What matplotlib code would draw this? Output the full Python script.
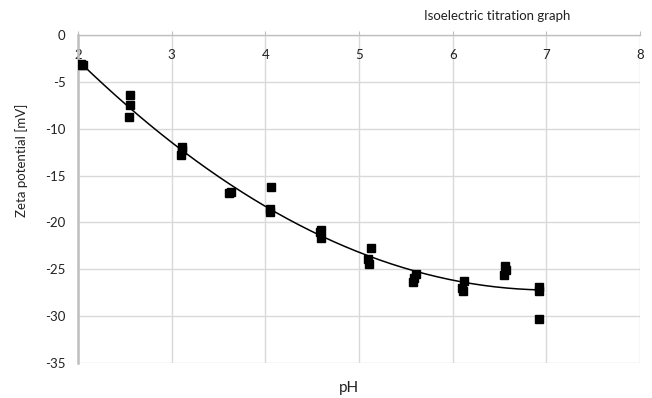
import numpy as np
import matplotlib
matplotlib.use("Agg")
import matplotlib.pyplot as plt

plt.rcParams['font.family'] = ['Lato', 'DejaVu Sans']

# Data
ph = [2.03, 2.05, 2.04,
      2.55, 2.55, 2.54,
      3.11, 3.11, 3.10,
      3.61, 3.63,
      4.06, 4.05, 4.05,
      4.59, 4.58, 4.59,
      5.13, 5.10, 5.11,
      5.61, 5.59, 5.58,
      6.12, 6.10, 6.11,
      6.56, 6.57, 6.55,
      6.92, 6.92, 6.92]
zeta = [-3.1, -3.2, -3.15,
        -6.4, -7.5, -8.7,
        -12.0, -12.3, -12.8,
        -16.9, -16.7,
        -16.2, -18.6, -18.9,
        -20.8, -21.0, -21.7,
        -22.7, -23.9, -24.4,
        -25.5, -25.9, -26.4,
        -26.2, -27.0, -27.3,
        -24.7, -25.1, -25.6,
        -26.9, -27.3, -30.3]

x_ticks = [2, 3, 4, 5, 6, 7, 8]
y_ticks = [0, -5, -10, -15, -20, -25, -30, -35]

title = "Isoelectric titration graph"
xlabel = "pH"
ylabel = "Zeta potential [mV]"

fig = plt.figure(figsize=(6.52, 3.98), dpi=100)
ax = fig.add_axes([78/652, 1-363/398, (640-78)/652, (363-35)/398])

ax.set_xlim(2, 8)
ax.set_ylim(-35, 0)
ax.set_xticks(x_ticks)
ax.set_yticks(y_ticks)
ax.set_xticklabels([str(v) for v in x_ticks])
ax.set_yticklabels([str(v) for v in y_ticks])

ax.grid(True, color='#d9d9d9', linewidth=1.0)
ax.set_axisbelow(True)

for s in ['right', 'bottom']:
    ax.spines[s].set_visible(False)
ax.spines['top'].set_color('#bfbfbf')
ax.spines['top'].set_linewidth(1.0)
ax.spines['left'].set_color('#bfbfbf')
ax.spines['left'].set_linewidth(1.8)

ax.tick_params(axis='x', bottom=False, labelbottom=False, top=True, labeltop=True,
               direction='out', length=3, color='#bfbfbf', pad=-22,
               labelsize=9.5, labelcolor='#222222')
ax.tick_params(axis='y', length=0, pad=9, labelsize=9.5, labelcolor='#222222')

# polynomial trendline (order 2)
coef = np.polyfit(ph, zeta, 2)
xs = np.linspace(min(ph), max(ph), 200)
ax.plot(xs, np.polyval(coef, xs), color='black', linewidth=1.1, zorder=2)

ax.plot(ph, zeta, linestyle='none', marker='s', markersize=5.3,
        color='black', zorder=3)

fig.text(497/652, 1-16/398, title, ha='center', va='center', fontsize=9.5, color='#222222')
fig.text(349/652, 1-388/398, xlabel, ha='center', va='center', fontsize=11, color='#222222')
fig.text(22/652, 1-160/398, ylabel, ha='center', va='center', rotation=90,
         fontsize=9.5, color='#222222')

fig.savefig("out.png", dpi=100)
